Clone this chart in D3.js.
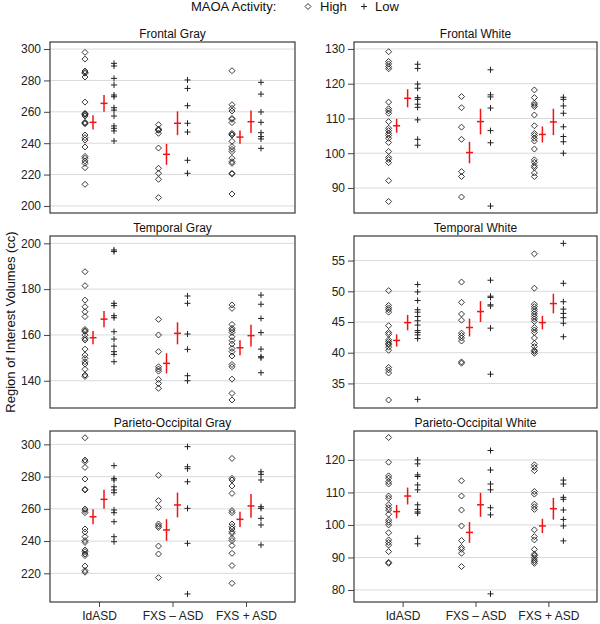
<!DOCTYPE html>
<html>
<head>
<meta charset="utf-8">
<script src="https://cdn.jsdelivr.net/npm/d3@7"></script>
<style>
  body { margin: 0; background: #fff; }
  svg { display: block; font-family: "Liberation Sans", Arial, sans-serif; }
</style>
</head>
<body>
<svg id="chart" width="600" height="624"></svg>
<script>
const groups = ["IdASD", "FXS \u2013 ASD", "FXS + ASD"];
const regions = ["Frontal Gray", "Frontal White", "Temporal Gray", "Temporal White", "Parieto-Occipital Gray", "Parieto-Occipital White"];

const yDomains = [[195.5, 304.5], [82.8, 132], [128.1, 203.2], [31, 59], [202.2, 308.3], [76.3, 128.9]];
const yTicks = [
  [200, 220, 240, 260, 280, 300],
  [90, 100, 110, 120, 130],
  [140, 160, 180, 200],
  [35, 40, 45, 50, 55],
  [220, 240, 260, 280, 300],
  [80, 90, 100, 110, 120]
];

// individual subjects, one array per group: IdASD, FXS-ASD, FXS+ASD
const frontalGrayHigh = [
  [297.9, 293.6, 286.0, 285.1, 284.6, 282.2, 266.2, 259.0, 258.6, 258.2, 257.3, 253.3, 252.8, 252.4, 245.2, 243.5, 242.0, 237.6, 231.6, 230.4, 228.7, 227.2, 224.4, 213.8],
  [251.8, 249.0, 248.5, 248.2, 246.3, 236.9, 224.0, 220.8, 217.0, 205.3],
  [286.2, 264.5, 262.2, 260.5, 255.8, 255.2, 253.1, 246.3, 245.5, 245.2, 241.2, 237.8, 236.1, 234.6, 230.4, 228.2, 227.2, 220.8, 220.4, 207.6]
];
const frontalGrayLow = [
  [290.9, 289.2, 281.3, 277.1, 270.7, 269.6, 262.6, 261.1, 257.3, 251.0, 249.5, 247.8, 241.4],
  [280.3, 274.9, 263.9, 252.7, 247.1, 229.1, 220.8],
  [278.8, 271.3, 259.9, 253.3, 246.7, 244.2, 242.7, 236.7]
];
const frontalWhiteHigh = [
  [129.2, 126.4, 125.7, 124.9, 124.3, 114.7, 112.8, 112.2, 111.5, 109.1, 107.2, 106.5, 105.7, 105.1, 104.3, 103.1, 100.5, 98.8, 98.2, 97.3, 92.1, 86.1],
  [116.3, 113.1, 107.5, 104.0, 94.7, 93.3, 87.4],
  [118.2, 116.0, 114.4, 113.9, 113.4, 111.0, 107.9, 105.7, 105.1, 104.3, 103.5, 101.2, 98.1, 97.4, 96.4, 95.9, 94.3, 93.3]
];
const frontalWhiteLow = [
  [125.6, 124.4, 119.9, 118.7, 116.0, 115.5, 114.1, 113.2, 109.6, 104.0, 102.3],
  [124.0, 116.8, 116.2, 113.0, 106.5, 103.0, 84.8],
  [116.1, 115.5, 113.6, 111.5, 107.6, 104.8, 103.3, 100.0]
];
const temporalGrayHigh = [
  [187.6, 181.5, 175.2, 172.3, 170.1, 168.0, 162.4, 161.8, 161.5, 159.9, 158.5, 157.8, 153.8, 151.2, 149.8, 148.3, 147.3, 145.0, 142.5, 141.9],
  [166.8, 160.0, 152.7, 146.1, 145.1, 144.2, 140.6, 138.8, 136.7],
  [173.1, 171.6, 164.6, 162.9, 162.1, 161.1, 159.2, 157.5, 156.0, 154.1, 152.7, 150.8, 147.1, 146.1, 140.7, 134.5, 131.6]
];
const temporalGrayLow = [
  [197.1, 196.4, 173.8, 172.8, 168.4, 167.5, 161.4, 158.2, 155.1, 152.7, 151.5, 148.3],
  [177.0, 173.8, 160.4, 153.7, 142.2, 140.0],
  [177.4, 173.4, 167.2, 161.0, 153.8, 150.5, 150.0, 143.5]
];
const temporalWhiteHigh = [
  [50.1, 47.7, 47.3, 47.0, 46.6, 44.4, 43.3, 43.0, 42.1, 41.8, 41.5, 41.3, 40.9, 40.4, 37.6, 37.2, 36.7, 32.3],
  [51.5, 48.2, 46.3, 45.3, 43.2, 42.8, 42.4, 41.9, 38.5, 38.3],
  [56.1, 50.5, 47.9, 47.5, 47.1, 46.7, 46.3, 45.9, 45.5, 45.1, 44.1, 43.7, 43.3, 42.4, 41.5, 41.0, 40.4, 40.2, 39.9]
];
const temporalWhiteLow = [
  [51.1, 49.9, 48.5, 47.0, 46.6, 45.9, 45.2, 44.5, 43.6, 43.3, 42.9, 42.3, 32.4],
  [51.8, 49.2, 49.0, 47.8, 47.6, 44.0, 36.5],
  [57.8, 51.3, 48.3, 47.1, 46.4, 45.7, 44.8, 42.6]
];
const parietoGrayHigh = [
  [304.1, 290.3, 289.3, 285.7, 278.5, 272.1, 271.7, 259.9, 258.9, 257.6, 247.5, 245.6, 242.7, 240.3, 239.2, 234.5, 233.4, 232.0, 231.0, 224.5, 221.7, 220.7],
  [280.8, 265.1, 260.9, 250.6, 249.4, 248.5, 236.9, 232.0, 217.3],
  [291.3, 278.9, 277.9, 274.2, 269.6, 258.9, 257.6, 250.6, 248.9, 247.5, 245.8, 244.8, 241.7, 240.3, 237.2, 232.4, 224.8, 213.8]
];
const parietoGrayLow = [
  [286.8, 278.9, 277.9, 273.7, 271.7, 270.0, 259.3, 257.6, 252.0, 242.7, 239.6],
  [298.6, 286.1, 284.9, 276.8, 260.3, 238.6, 207.2],
  [283.0, 281.4, 277.9, 261.3, 260.3, 254.1, 250.0, 237.6]
];
const parietoWhiteHigh = [
  [126.9, 119.3, 115.1, 114.4, 113.3, 112.6, 108.9, 108.2, 106.2, 105.3, 104.6, 103.3, 101.5, 100.8, 100.0, 97.6, 95.4, 94.6, 93.8, 91.8, 88.5, 88.2],
  [113.6, 108.9, 104.6, 99.7, 95.2, 93.1, 92.5, 91.3, 87.2],
  [118.5, 117.7, 116.7, 110.3, 109.5, 106.4, 105.6, 104.8, 98.5, 96.4, 95.4, 92.5, 91.0, 90.6, 89.9, 89.2, 88.7, 88.2]
];
const parietoWhiteLow = [
  [120.0, 118.8, 115.4, 114.9, 112.3, 110.8, 106.2, 104.8, 104.0, 103.6, 95.9, 94.2],
  [122.9, 116.9, 112.6, 110.8, 105.3, 103.1, 78.8],
  [113.8, 112.6, 108.5, 107.9, 104.6, 101.7, 99.7, 95.1]
];

// mean +/- SE per region (rows) and group (columns)
const highMeans = [[253.3, 232.9, 243.9], [107.9, 100.2, 105.4], [158.8, 147.6, 154.4], [42.0, 44.1, 44.9], [255.1, 246.9, 253.5], [104.1, 97.7, 99.7]];
const highSe = [[4.5, 6.7, 4.2], [2.0, 3.1, 2.3], [2.9, 4.4, 3.3], [1.0, 1.45, 1.1], [4.6, 6.7, 4.7], [2.05, 3.2, 2.2]];
const lowMeans = [[265.4, 252.7, 253.7], [115.8, 109.1, 109.0], [166.9, 160.7, 159.7], [44.9, 46.7, 48.0], [265.9, 262.4, 261.8], [108.9, 106.2, 105.0]];
const lowSe = [[5.3, 7.6, 7.2], [2.6, 3.7, 3.8], [3.5, 4.8, 4.7], [1.25, 1.7, 1.6], [5.9, 7.7, 7.4], [2.6, 3.7, 3.35]];

const highPoints = [frontalGrayHigh, frontalWhiteHigh, temporalGrayHigh, temporalWhiteHigh, parietoGrayHigh, parietoWhiteHigh];
const lowPoints = [frontalGrayLow, frontalWhiteLow, temporalGrayLow, temporalWhiteLow, parietoGrayLow, parietoWhiteLow];

const diamond = "M0,-3L3,0L0,3L-3,0Z";
const cross = "M-3,0H3M0,-3V3";
const red = "#f01414";

const drawPanel = (svg, i) => {
  var col = i % 2, row = Math.floor(i / 2),
      x0 = [50, 354][col], x1 = [295, 597][col],
      y0 = [42, 236, 431][row], y1 = [213, 408, 602][row];

  var x = d3.scalePoint().domain(groups).range([x0, x1]).padding(0.667),
      y = d3.scaleLinear().domain(yDomains[i]).range([y1, y0]);

  // offsets of the four columns inside each group
  var off = d3.scaleOrdinal().domain(["high", "highMean", "lowMean", "low"]).range([-14, -6, 5, 15]);

  var g = svg.append("g");

  g.append("g")
    .selectAll("line")
    .data(yTicks[i])
    .enter()
    .append("line")
    .attr("x1", x0).attr("x2", x1)
    .attr("y1", d => y(d)).attr("y2", d => y(d))
    .attr("stroke", "#dadada")
    .attr("stroke-width", 1);

  var ax = g.append("g")
    .attr("transform", "translate(" + x0 + ",0)")
    .call(d3.axisLeft(y).tickValues(yTicks[i]).tickSize(6).tickPadding(3));
  ax.select(".domain").remove();
  ax.selectAll("line").attr("stroke", "#444");
  ax.selectAll("text").attr("font-size", 12).attr("fill", "#222").attr("font-family", null);

  if (row == 2) {
    var bx = g.append("g")
      .attr("transform", "translate(0," + y1 + ")")
      .call(d3.axisBottom(x).tickSize(5).tickPadding(4));
    bx.select(".domain").remove();
    bx.selectAll("line").attr("stroke", "#444");
    bx.selectAll("text").attr("font-size", 12).attr("fill", "#222").attr("font-family", null);
  }

  g.append("text")
    .attr("x", (x0 + x1) / 2)
    .attr("y", y0 - 4)
    .attr("text-anchor", "middle")
    .attr("font-size", 12)
    .attr("fill", "#111")
    .text(regions[i]);

  groups.forEach((grp, k) => {
    var cx = x(grp);

    g.append("g")
      .selectAll("path")
      .data(highPoints[i][k])
      .enter()
      .append("path")
      .attr("d", diamond)
      .attr("transform", d => "translate(" + (cx + off("high")) + "," + y(d) + ")")
      .attr("fill", "none")
      .attr("stroke", "#222")
      .attr("stroke-width", 0.9);

    g.append("g")
      .selectAll("path")
      .data(lowPoints[i][k])
      .enter()
      .append("path")
      .attr("d", cross)
      .attr("transform", d => "translate(" + (cx + off("low")) + "," + y(d) + ")")
      .attr("fill", "none")
      .attr("stroke", "#222")
      .attr("stroke-width", 1);

    [["highMean", highMeans[i][k], highSe[i][k]], ["lowMean", lowMeans[i][k], lowSe[i][k]]].forEach(m => {
      var mx = cx + off(m[0]);
      g.append("line")
        .attr("x1", mx).attr("x2", mx)
        .attr("y1", y(m[1] - m[2])).attr("y2", y(m[1] + m[2]))
        .attr("stroke", red).attr("stroke-width", 1.5);
      g.append("line")
        .attr("x1", mx - 3.5).attr("x2", mx + 3.5)
        .attr("y1", y(m[1])).attr("y2", y(m[1]))
        .attr("stroke", red).attr("stroke-width", 1.5);
    });
  });

  g.append("rect")
    .attr("x", x0).attr("y", y0)
    .attr("width", x1 - x0).attr("height", y1 - y0)
    .attr("fill", "none")
    .attr("stroke", "#3a3a3a")
    .attr("stroke-width", 1.2);
};

(() => {
  var svg = d3.select("#chart");

  svg.append("rect").attr("width", 600).attr("height", 624).attr("fill", "#fff");

  // legend
  var lg = svg.append("g").attr("font-size", 13).attr("fill", "#111");
  lg.append("text").attr("x", 191).attr("y", 11).text("MAOA Activity:");
  lg.append("path").attr("d", diamond).attr("transform", "translate(308,6.5)")
    .attr("fill", "none").attr("stroke", "#222").attr("stroke-width", 0.9);
  lg.append("text").attr("x", 320).attr("y", 11).text("High");
  lg.append("path").attr("d", cross).attr("transform", "translate(364,6.5)")
    .attr("fill", "none").attr("stroke", "#222").attr("stroke-width", 1);
  lg.append("text").attr("x", 375).attr("y", 11).text("Low");

  svg.append("text")
    .attr("transform", "translate(15,322) rotate(-90)")
    .attr("text-anchor", "middle")
    .attr("font-size", 13)
    .attr("fill", "#111")
    .text("Region of Interest Volumes (cc)");

  regions.forEach((r, i) => drawPanel(svg, i));
})();
</script>
</body>
</html>
